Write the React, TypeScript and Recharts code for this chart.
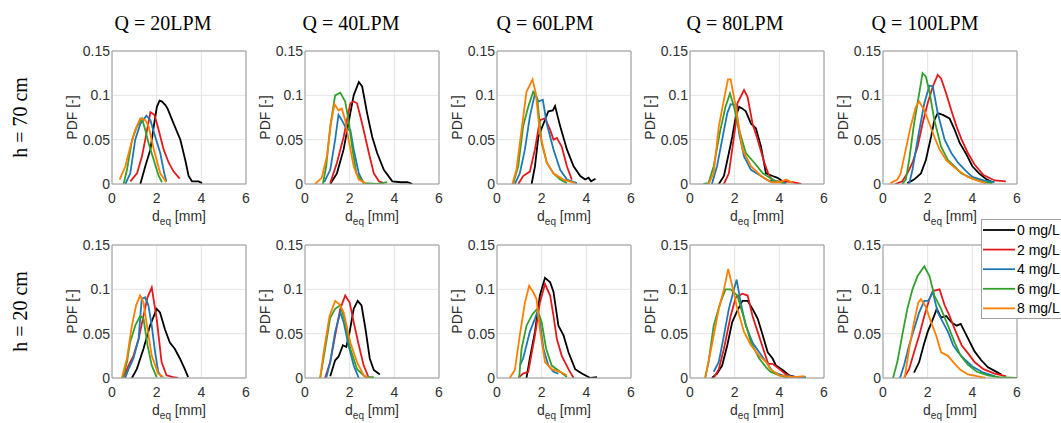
import React from "react";
import { LineChart, Line, XAxis, YAxis, CartesianGrid, ReferenceLine } from "recharts";

type Pt = [number, number];

// ---------- labels ----------
const concentrations = ["0 mg/L", "2 mg/L", "4 mg/L", "6 mg/L", "8 mg/L"];
const flowTitles = ["Q = 20LPM", "Q = 40LPM", "Q = 60LPM", "Q = 80LPM", "Q = 100LPM"];
const heightLabels = ["h = 70 cm", "h = 20 cm"];
const xTicks = [0, 2, 4, 6];
const yTicks = [0, 0.05, 0.1, 0.15];

// ---------- data: h = 70 cm ----------
const h70q20_0: Pt[] = [[1.27,0],[1.49,0.02],[1.72,0.039],[1.87,0.065],[2.01,0.087],[2.13,0.094],[2.24,0.093],[2.39,0.089],[2.49,0.085],[2.76,0.068],[3.06,0.05],[3.28,0.027],[3.43,0.009],[3.58,0.003],[3.88,0.003],[4.03,0.001]];
const h70q20_2: Pt[] = [[0.82,0.003],[1.12,0.012],[1.34,0.031],[1.49,0.05],[1.6,0.065],[1.72,0.081],[1.9,0.078],[2.09,0.061],[2.31,0.039],[2.54,0.024],[2.76,0.014],[3.03,0.006]];
const h70q20_4: Pt[] = [[0.6,0],[0.82,0.012],[1.04,0.05],[1.27,0.068],[1.54,0.077],[1.72,0.072],[1.94,0.053],[2.16,0.035],[2.34,0.012],[2.43,0.003]];
const h70q20_6: Pt[] = [[0.52,0],[0.67,0.016],[0.9,0.05],[1.12,0.065],[1.34,0.074],[1.49,0.061],[1.64,0.046],[1.87,0.027],[2.09,0.009],[2.24,0.002]];
const h70q20_8: Pt[] = [[0.34,0.005],[0.6,0.02],[0.82,0.042],[1.04,0.061],[1.27,0.074],[1.49,0.072],[1.64,0.065],[1.87,0.039],[2.16,0.012],[2.43,0.002]];

const h70q40_0: Pt[] = [[1.13,0],[1.43,0.012],[1.73,0.039],[2.03,0.08],[2.18,0.1],[2.41,0.115],[2.56,0.11],[2.78,0.08],[3.01,0.053],[3.23,0.035],[3.53,0.016],[3.91,0.003],[4.29,0.002],[4.59,0.002],[4.81,0]];
const h70q40_2: Pt[] = [[1.13,0.001],[1.43,0.024],[1.73,0.053],[2.03,0.091],[2.18,0.093],[2.33,0.091],[2.56,0.068],[2.86,0.035],[3.08,0.012],[3.31,0.003],[3.53,0.001]];
const h70q40_4: Pt[] = [[0.86,0.002],[1.13,0.016],[1.35,0.05],[1.5,0.078],[1.65,0.072],[1.88,0.061],[2.03,0.061],[2.18,0.039],[2.41,0.012],[2.63,0.001]];
const h70q40_6: Pt[] = [[0.8,0],[0.95,0.02],[1.13,0.065],[1.35,0.1],[1.58,0.103],[1.8,0.093],[1.95,0.072],[2.11,0.042],[2.3,0.012],[2.63,0.001],[3.23,0],[3.68,0.002]];
const h70q40_8: Pt[] = [[0.45,0],[0.75,0.007],[0.98,0.031],[1.16,0.068],[1.32,0.09],[1.5,0.083],[1.65,0.085],[1.8,0.072],[1.95,0.05],[2.18,0.02],[2.41,0.005],[2.71,0.001]];

const h70q60_0: Pt[] = [[1.55,0],[1.7,0.02],[1.85,0.053],[2.08,0.068],[2.3,0.082],[2.5,0.083],[2.6,0.088],[2.83,0.065],[3.13,0.039],[3.43,0.02],[3.73,0.009],[3.95,0.005],[4.1,0.007],[4.21,0.003],[4.41,0.006]];
const h70q60_2: Pt[] = [[0.95,0],[1.17,0.009],[1.47,0.014],[1.7,0.039],[1.92,0.072],[2.15,0.074],[2.38,0.061],[2.53,0.05],[2.68,0.052],[2.9,0.042],[3.13,0.02],[3.35,0.005]];
const h70q60_4: Pt[] = [[0.8,0],[1.02,0.012],[1.25,0.039],[1.47,0.076],[1.7,0.102],[1.85,0.093],[2.05,0.095],[2.23,0.068],[2.53,0.039],[2.83,0.016],[3.13,0.005],[3.58,0.001]];
const h70q60_6: Pt[] = [[0.72,0],[0.95,0.02],[1.17,0.065],[1.4,0.087],[1.62,0.104],[1.8,0.097],[2.0,0.046],[2.23,0.024],[2.53,0.012],[2.83,0.005],[3.13,0.001]];
const h70q60_8: Pt[] = [[0.69,0],[0.87,0.016],[1.1,0.061],[1.32,0.104],[1.59,0.118],[1.74,0.102],[1.92,0.057],[2.23,0.024],[2.53,0.012],[2.98,0.005],[3.5,0.001]];

const h70q80_0: Pt[] = [[1.29,0],[1.52,0.009],[1.74,0.035],[1.89,0.053],[2.05,0.076],[2.2,0.087],[2.35,0.085],[2.5,0.082],[2.73,0.068],[2.95,0.063],[3.18,0.042],[3.4,0.012],[3.7,0.009],[3.92,0.007],[4.15,0.003],[4.3,0.001]];
const h70q80_2: Pt[] = [[1.52,0],[1.74,0.012],[1.89,0.039],[2.05,0.068],[2.12,0.091],[2.42,0.106],[2.58,0.098],[2.8,0.068],[3.03,0.05],[3.33,0.024],[3.5,0.012],[3.7,0.003],[4.15,0.003],[4.6,0.002],[4.98,0]];
const h70q80_4: Pt[] = [[0.98,0],[1.21,0.02],[1.44,0.05],[1.67,0.08],[1.82,0.09],[2.05,0.089],[2.2,0.057],[2.42,0.031],[2.73,0.016],[3.18,0.009],[3.48,0.004],[3.85,0.003],[4.3,0.001]];
const h70q80_6: Pt[] = [[0.6,0],[0.83,0.001],[1.06,0.02],[1.36,0.061],[1.59,0.087],[1.79,0.102],[1.97,0.087],[2.2,0.061],[2.5,0.035],[2.88,0.024],[3.26,0.012],[3.45,0.009],[3.85,0.003],[4.23,0.001]];
const h70q80_8: Pt[] = [[0.83,0],[1.06,0.012],[1.29,0.065],[1.52,0.095],[1.7,0.118],[1.82,0.118],[2.05,0.087],[2.35,0.039],[2.73,0.02],[3.18,0.009],[3.64,0.002],[4.0,0.002],[4.3,0.005],[4.6,0.001]];

const h70q100_0: Pt[] = [[1.09,0.001],[1.39,0.005],[1.7,0.012],[1.92,0.027],[2.15,0.053],[2.3,0.072],[2.45,0.08],[2.68,0.078],[2.98,0.074],[3.21,0.061],[3.44,0.046],[3.7,0.035],[4.0,0.02],[4.3,0.012],[4.6,0.006],[4.9,0.002]];
const h70q100_2: Pt[] = [[0.56,0],[0.86,0.003],[1.09,0.012],[1.32,0.024],[1.55,0.042],[1.77,0.068],[2.0,0.091],[2.23,0.11],[2.45,0.123],[2.6,0.119],[2.83,0.102],[3.06,0.083],[3.29,0.065],[3.52,0.05],[3.8,0.035],[4.1,0.022],[4.5,0.01],[5.0,0.004],[5.5,0.003]];
const h70q100_4: Pt[] = [[1.17,0],[1.32,0.016],[1.55,0.05],[1.85,0.091],[2.08,0.111],[2.23,0.11],[2.45,0.08],[2.76,0.05],[3.06,0.035],[3.36,0.024],[3.7,0.015],[4.0,0.008],[4.5,0.004],[5.0,0.002]];
const h70q100_6: Pt[] = [[0.86,0],[1.02,0.005],[1.17,0.027],[1.39,0.068],[1.62,0.102],[1.77,0.125],[1.92,0.121],[2.08,0.104],[2.3,0.072],[2.6,0.042],[2.91,0.027],[3.21,0.02],[3.5,0.012],[4.0,0.006],[4.5,0.002],[4.9,0.001]];
const h70q100_8: Pt[] = [[0.33,0.001],[0.64,0.005],[0.79,0.012],[1.02,0.039],[1.24,0.065],[1.47,0.087],[1.62,0.093],[1.85,0.083],[2.08,0.068],[2.3,0.053],[2.53,0.039],[2.83,0.027],[3.14,0.02],[3.44,0.014],[3.8,0.008],[4.2,0.004],[4.6,0.001]];

// ---------- data: h = 20 cm ----------
const h20q20_0: Pt[] = [[0.89,0],[1.11,0.01],[1.41,0.033],[1.7,0.059],[2.0,0.078],[2.15,0.074],[2.37,0.055],[2.59,0.04],[2.81,0.033],[3.04,0.022],[3.26,0.01],[3.41,0.001]];
const h20q20_2: Pt[] = [[0.52,0.001],[0.74,0.014],[0.96,0.025],[1.19,0.044],[1.41,0.07],[1.59,0.091],[1.78,0.102],[2.0,0.067],[2.22,0.018],[2.44,0.003],[2.74,0.001],[2.96,0]];
const h20q20_4: Pt[] = [[0.59,0],[0.74,0.01],[0.96,0.022],[1.19,0.044],[1.33,0.089],[1.48,0.091],[1.63,0.082],[1.78,0.059],[1.93,0.029],[2.07,0.007],[2.22,0.001]];
const h20q20_6: Pt[] = [[0.49,0],[0.67,0.018],[0.81,0.04],[1.04,0.059],[1.26,0.07],[1.41,0.067],[1.59,0.037],[1.78,0.014],[2.0,0.001]];
const h20q20_8: Pt[] = [[0.44,0],[0.67,0.022],[0.89,0.059],[1.08,0.082],[1.26,0.093],[1.41,0.085],[1.59,0.055],[1.78,0.025],[2.07,0.005],[2.3,0.001]];

const h20q40_0: Pt[] = [[1.13,0.002],[1.35,0.02],[1.5,0.024],[1.7,0.037],[1.85,0.035],[2.0,0.052],[2.18,0.078],[2.36,0.087],[2.53,0.082],[2.71,0.055],[2.9,0.022],[3.08,0.009],[3.35,0.004]];
const h20q40_2: Pt[] = [[0.9,0],[1.13,0.018],[1.35,0.048],[1.58,0.078],[1.8,0.093],[2.0,0.085],[2.18,0.063],[2.41,0.037],[2.63,0.014],[2.86,0]];
const h20q40_4: Pt[] = [[0.95,0],[1.13,0.018],[1.35,0.052],[1.58,0.074],[1.73,0.063],[1.95,0.037],[2.18,0.014],[2.41,0]];
const h20q40_6: Pt[] = [[0.68,0],[0.9,0.033],[1.13,0.068],[1.35,0.078],[1.58,0.082],[1.8,0.063],[2.03,0.033],[2.33,0.01],[2.71,0.001],[3.08,0.001]];
const h20q40_8: Pt[] = [[0.68,0],[0.86,0.033],[1.1,0.07],[1.35,0.087],[1.55,0.083],[1.73,0.074],[2.03,0.04],[2.33,0.018],[2.63,0.003],[2.86,0]];

const h20q60_0: Pt[] = [[1.32,0],[1.47,0.022],[1.7,0.052],[1.92,0.093],[2.15,0.113],[2.38,0.108],[2.53,0.097],[2.75,0.059],[2.98,0.048],[3.2,0.029],[3.5,0.01],[3.8,0.005],[4.18,0],[4.48,0.001]];
const h20q60_2: Pt[] = [[0.95,0],[1.17,0.005],[1.4,0.007],[1.7,0.048],[1.92,0.085],[2.15,0.106],[2.38,0.093],[2.53,0.07],[2.68,0.044],[2.9,0.025],[3.2,0.01],[3.43,0]];
const h20q60_4: Pt[] = [[1.02,0.014],[1.17,0.022],[1.32,0.037],[1.47,0.052],[1.7,0.067],[1.8,0.074],[1.92,0.063],[2.08,0.033],[2.3,0.014],[2.53,0.007],[2.75,0.005]];
const h20q60_6: Pt[] = [[0.99,0],[1.1,0.033],[1.32,0.059],[1.59,0.072],[1.8,0.078],[2.0,0.063],[2.2,0.033],[2.45,0.014],[2.83,0.007],[3.13,0.001]];
const h20q60_8: Pt[] = [[0.57,0],[0.8,0.009],[1.02,0.048],[1.25,0.085],[1.44,0.104],[1.62,0.097],[1.77,0.089],[1.92,0.055],[2.15,0.018],[2.45,0.01],[2.83,0.007],[3.13,0.003]];

const h20q80_0: Pt[] = [[0.98,0],[1.21,0.005],[1.44,0.014],[1.67,0.037],[1.89,0.063],[2.12,0.076],[2.35,0.087],[2.58,0.087],[2.8,0.078],[3.03,0.067],[3.26,0.048],[3.48,0.029],[3.7,0.022],[3.85,0.014],[4.15,0.009],[4.45,0.003],[4.75,0.001]];
const h20q80_2: Pt[] = [[1.06,0],[1.29,0.01],[1.52,0.033],[1.82,0.07],[2.05,0.091],[2.35,0.095],[2.58,0.093],[2.8,0.07],[3.03,0.052],[3.33,0.029],[3.5,0.016],[3.7,0.016],[4.0,0.01],[4.3,0.004],[4.6,0.001],[5.05,0.001]];
const h20q80_4: Pt[] = [[1.06,0.007],[1.29,0.018],[1.52,0.048],[1.74,0.078],[1.97,0.1],[2.09,0.111],[2.27,0.085],[2.5,0.059],[2.8,0.04],[3.1,0.029],[3.41,0.018],[3.7,0.007],[4.15,0.003],[4.75,0.001],[5.2,0.001]];
const h20q80_6: Pt[] = [[0.68,0],[0.83,0.018],[1.06,0.059],[1.36,0.085],[1.59,0.1],[1.82,0.1],[2.12,0.093],[2.42,0.067],[2.73,0.04],[3.1,0.022],[3.41,0.012],[3.6,0.007],[4.0,0.003],[4.45,0]];
const h20q80_8: Pt[] = [[0.68,0],[0.98,0.037],[1.29,0.078],[1.52,0.1],[1.71,0.123],[1.89,0.104],[2.12,0.078],[2.42,0.052],[2.73,0.037],[3.1,0.025],[3.41,0.018],[3.6,0.01],[4.0,0.003],[4.6,0.001],[5.13,0.002]];

const h20q100_0: Pt[] = [[1.39,0.006],[1.62,0.018],[1.82,0.037],[2.0,0.052],[2.18,0.063],[2.41,0.078],[2.6,0.068],[2.83,0.07],[3.06,0.063],[3.29,0.059],[3.48,0.061],[3.8,0.045],[4.1,0.03],[4.4,0.02],[4.7,0.012],[5.0,0.008],[5.3,0.004]];
const h20q100_2: Pt[] = [[0.94,0],[1.17,0.01],[1.39,0.029],[1.62,0.048],[1.85,0.07],[2.08,0.089],[2.23,0.098],[2.53,0.1],[2.76,0.082],[2.98,0.07],[3.21,0.055],[3.52,0.037],[3.8,0.028],[4.1,0.018],[4.5,0.01],[5.0,0.005],[5.5,0.002]];
const h20q100_4: Pt[] = [[0.76,0],[0.94,0.014],[1.17,0.037],[1.39,0.055],[1.62,0.074],[1.85,0.087],[2.03,0.087],[2.23,0.097],[2.45,0.074],[2.68,0.063],[2.91,0.052],[3.14,0.037],[3.36,0.029],[3.7,0.02],[4.0,0.013],[4.5,0.006],[5.0,0.002]];
const h20q100_6: Pt[] = [[0.45,0],[0.64,0.018],[0.86,0.048],[1.09,0.078],[1.32,0.1],[1.55,0.115],[1.85,0.126],[2.08,0.115],[2.3,0.093],[2.6,0.078],[2.91,0.059],[3.21,0.04],[3.48,0.025],[3.8,0.015],[4.2,0.007],[4.7,0.003],[5.2,0.001],[6.0,0]];
const h20q100_8: Pt[] = [[0.97,0],[1.17,0.033],[1.39,0.063],[1.58,0.085],[1.7,0.089],[1.92,0.08],[2.15,0.063],[2.38,0.048],[2.6,0.029],[2.91,0.025],[3.21,0.016],[3.48,0.009],[3.8,0.004],[4.2,0.002],[4.6,0]];

const panelSeries: Pt[][][][] = [
  [
    [h70q20_0, h70q20_2, h70q20_4, h70q20_6, h70q20_8],
    [h70q40_0, h70q40_2, h70q40_4, h70q40_6, h70q40_8],
    [h70q60_0, h70q60_2, h70q60_4, h70q60_6, h70q60_8],
    [h70q80_0, h70q80_2, h70q80_4, h70q80_6, h70q80_8],
    [h70q100_0, h70q100_2, h70q100_4, h70q100_6, h70q100_8],
  ],
  [
    [h20q20_0, h20q20_2, h20q20_4, h20q20_6, h20q20_8],
    [h20q40_0, h20q40_2, h20q40_4, h20q40_6, h20q40_8],
    [h20q60_0, h20q60_2, h20q60_4, h20q60_6, h20q60_8],
    [h20q80_0, h20q80_2, h20q80_4, h20q80_6, h20q80_8],
    [h20q100_0, h20q100_2, h20q100_4, h20q100_6, h20q100_8],
  ],
];

// ---------- styles / layout ----------
const COLORS = ["#000000", "#e31a1c", "#1f78b4", "#33a02c", "#ff7f00"];
const FRAME = "#9a9a9a";
const GRID = "#e4e4e4";
const TICK = "#303030";
const SANS = "'Liberation Sans', Arial, sans-serif";
const SERIF = "'Liberation Serif', 'Times New Roman', serif";

const COL_LEFT = [112, 305, 497, 690, 883];
const ROW_TOP = [51, 245];
const TITLE_X = [163, 351, 545, 735, 925];
const PW = 134;
const PH = 133;
const ML = 50;
const MT = 10;
const MR = 10;
const XH = 45;

const renderXLabel = (props: any) => {
  const vb = props.viewBox || {};
  const cx = vb.x + vb.width / 2;
  const y = vb.y + 37;
  return (
    <text x={cx} y={y} textAnchor="middle" fill={TICK} fontSize={14} fontFamily={SANS}>
      d<tspan dy={4} fontSize={10}>eq</tspan>
      <tspan dy={-4}> [mm]</tspan>
    </text>
  );
};

const renderYLabel = (props: any) => {
  const vb = props.viewBox || {};
  const x = vb.x + vb.width - 40;
  const cy = vb.y + vb.height / 2;
  return (
    <text
      x={x}
      y={cy}
      transform={`rotate(-90 ${x} ${cy})`}
      textAnchor="middle"
      dominantBaseline="central"
      fill={TICK}
      fontSize={14}
      fontFamily={SANS}
    >
      PDF [-]
    </text>
  );
};

function Panel({ series, left, top }: { series: Pt[][]; left: number; top: number }) {
  return (
    <div style={{ position: "absolute", left: left - ML, top: top - MT }}>
      <LineChart
        width={ML + PW + MR}
        height={MT + PH + XH}
        margin={{ top: MT, right: MR, bottom: 0, left: 0 }}
      >
        <CartesianGrid stroke={GRID} strokeWidth={1} />
        <XAxis
          type="number"
          dataKey="x"
          domain={[0, 6]}
          ticks={xTicks}
          interval={0}
          allowDataOverflow
          height={XH}
          tickLine={false}
          tickSize={8}
          tickMargin={1}
          axisLine={{ stroke: FRAME }}
          tick={{ fill: TICK, fontSize: 14, fontFamily: SANS }}
          label={{ content: renderXLabel }}
        />
        <YAxis
          type="number"
          domain={[0, 0.15]}
          ticks={yTicks}
          interval={0}
          allowDataOverflow
          width={ML}
          tickLine={false}
          tickSize={2}
          tickMargin={0}
          axisLine={{ stroke: FRAME }}
          tick={{ fill: TICK, fontSize: 14, fontFamily: SANS }}
          label={{ content: renderYLabel }}
        />
        <ReferenceLine x={6} stroke={FRAME} ifOverflow="visible" />
        <ReferenceLine y={0.15} stroke={FRAME} ifOverflow="visible" />
        {series.map((s, i) => (
          <Line
            key={concentrations[i]}
            name={concentrations[i]}
            data={s.map(([x, y]) => ({ x, y }))}
            dataKey="y"
            type="linear"
            stroke={COLORS[i]}
            strokeWidth={1.8}
            dot={false}
            activeDot={false}
            isAnimationActive={false}
          />
        ))}
      </LineChart>
    </div>
  );
}

export default function App() {
  return (
    <div
      style={{
        position: "absolute",
        left: 0,
        top: 0,
        width: 1061,
        height: 423,
        background: "#ffffff",
        overflow: "hidden",
      }}
    >
      <svg width={1061} height={423} style={{ position: "absolute", left: 0, top: 0 }}>
        {flowTitles.map((t, i) => (
          <text
            key={t}
            x={TITLE_X[i]}
            y={30}
            textAnchor="middle"
            fontSize={20}
            fontFamily={SERIF}
            fill="#000"
          >
            {t}
          </text>
        ))}
        {heightLabels.map((t, r) => {
          const cy = ROW_TOP[r] + PH / 2;
          return (
            <text
              key={t}
              x={20}
              y={cy}
              transform={`rotate(-90 20 ${cy})`}
              textAnchor="middle"
              dominantBaseline="central"
              fontSize={20}
              fontFamily={SERIF}
              fill="#000"
            >
              {t}
            </text>
          );
        })}
      </svg>
      {panelSeries.map((row, r) =>
        row.map((series, c) => (
          <Panel key={`${r}-${c}`} series={series} left={COL_LEFT[c]} top={ROW_TOP[r]} />
        ))
      )}
      <svg width={80} height={100} style={{ position: "absolute", left: 981, top: 219 }}>
        <rect x={0.5} y={0.5} width={120} height={99} fill="#ffffff" stroke="#a0a0a0" strokeWidth={1} />
        {concentrations.map((c, i) => {
          const y = 11 + i * 19.6;
          return (
            <g key={c}>
              <line x1={2} x2={34} y1={y} y2={y} stroke={COLORS[i]} strokeWidth={1.8} />
              <text x={36} y={y} dominantBaseline="central" fontSize={14} fontFamily={SANS} fill="#000">
                {c}
              </text>
            </g>
          );
        })}
      </svg>
    </div>
  );
}
